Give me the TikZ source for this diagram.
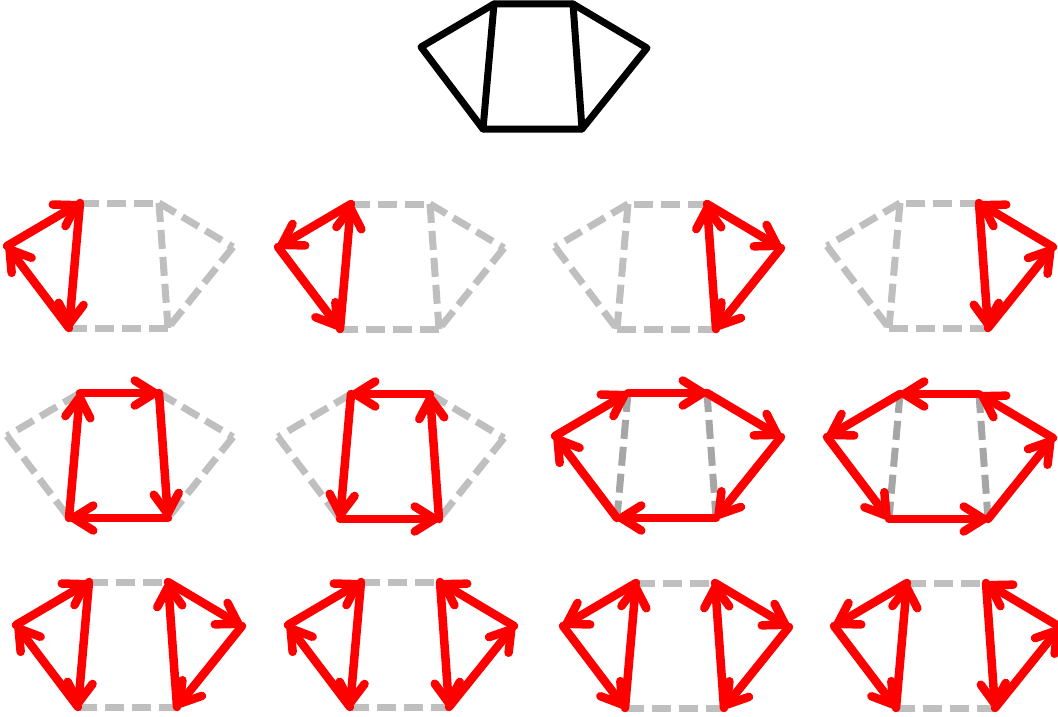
\documentclass[tikz,border=0pt]{standalone}
\usetikzlibrary{arrows.meta}
\tikzset{
  blk/.style={line width=7pt, black, line cap=round, line join=round},
  ghost/.style={line width=7pt, color=lightgray, dash pattern=on 19pt off 8pt},
  ghostd/.style={ghost, color=black!35},
  cyc/.style={line width=8.5pt, red, line cap=round,
    -{Straight Barb[length=20pt,width=25pt,line cap=round,line join=round]}},
}
\newcommand\mkshape[3]{%
  \coordinate (#1L)  at (#2,#3);
  \coordinate (#1TL) at ({#2+73},{#3-43});
  \coordinate (#1TR) at ({#2+152},{#3-43});
  \coordinate (#1R)  at ({#2+226},{#3+1});
  \coordinate (#1BR) at ({#2+161},{#3+82});
  \coordinate (#1BL) at ({#2+62},{#3+82});
}
\begin{document}
\begin{tikzpicture}[x=1pt,y=-1pt]
\useasboundingbox (0,0) rectangle (1058,717);
% top graph
\mkshape{t}{421}{47}
\draw[blk] (tL) -- (tTL) -- (tTR) -- (tR) -- (tBR) -- (tBL) -- cycle;
\draw[blk] (tTL) -- (tBL);
\draw[blk] (tTR) -- (tBR);
% row 1
\mkshape{a}{7}{246}
\mkshape{b}{278}{247}
\mkshape{c}{555}{247}
\mkshape{d}{827}{246}
\foreach \p in {a,b}{
  \draw[ghost] (\p TL) -- (\p TR);
  \draw[ghost] (\p TR) -- (\p R);
  \draw[ghost] (\p R) -- (\p BR);
  \draw[ghost] (\p BR) -- (\p BL);
  \draw[ghost] (\p TR) -- (\p BR);
}
\foreach \p in {c,d}{
  \draw[ghost] (\p TR) -- (\p TL);
  \draw[ghost] (\p TL) -- (\p L);
  \draw[ghost] (\p L) -- (\p BL);
  \draw[ghost] (\p BL) -- (\p BR);
  \draw[ghost] (\p TL) -- (\p BL);
}
\draw[cyc] (aL) -- (aTL); \draw[cyc] (aTL) -- (aBL); \draw[cyc] (aBL) -- (aL);
\draw[cyc] (bTL) -- (bL); \draw[cyc] (bL) -- (bBL); \draw[cyc] (bBL) -- (bTL);
\draw[cyc] (cTR) -- (cR); \draw[cyc] (cR) -- (cBR); \draw[cyc] (cBR) -- (cTR);
\draw[cyc] (dR) -- (dTR); \draw[cyc] (dTR) -- (dBR); \draw[cyc] (dBR) -- (dR);
% row 2
\mkshape{e}{7}{436}
\mkshape{f}{278}{437}
\mkshape{g}{555}{436}
\mkshape{h}{827}{437}
\foreach \p in {e,f}{
  \draw[ghost] (\p TL) -- (\p L);
  \draw[ghost] (\p L) -- (\p BL);
  \draw[ghost] (\p TR) -- (\p R);
  \draw[ghost] (\p R) -- (\p BR);
}
\foreach \p in {g,h}{
  \draw[ghostd] (\p TL) -- (\p BL);
  \draw[ghostd] (\p TR) -- (\p BR);
}
\draw[cyc] (eTL) -- (eTR); \draw[cyc] (eTR) -- (eBR); \draw[cyc] (eBR) -- (eBL); \draw[cyc] (eBL) -- (eTL);
\draw[cyc] (fTR) -- (fTL); \draw[cyc] (fTL) -- (fBL); \draw[cyc] (fBL) -- (fBR); \draw[cyc] (fBR) -- (fTR);
\draw[cyc] (gL) -- (gTL); \draw[cyc] (gTL) -- (gTR); \draw[cyc] (gTR) -- (gR);
\draw[cyc] (gR) -- (gBR); \draw[cyc] (gBR) -- (gBL); \draw[cyc] (gBL) -- (gL);
\draw[cyc] (hTL) -- (hL); \draw[cyc] (hL) -- (hBL); \draw[cyc] (hBL) -- (hBR);
\draw[cyc] (hBR) -- (hR); \draw[cyc] (hR) -- (hTR); \draw[cyc] (hTR) -- (hTL);
% row 3
\mkshape{i}{16}{625}
\mkshape{j}{288}{625}
\mkshape{k}{563}{626}
\mkshape{l}{834}{626}
\foreach \p in {i,j,k,l}{
  \draw[ghost] (\p TL) -- (\p TR);
  \draw[ghost] (\p BL) -- (\p BR);
}
\draw[cyc] (iL) -- (iTL); \draw[cyc] (iTL) -- (iBL); \draw[cyc] (iBL) -- (iL);
\draw[cyc] (iTR) -- (iR); \draw[cyc] (iR) -- (iBR); \draw[cyc] (iBR) -- (iTR);
\draw[cyc] (jL) -- (jTL); \draw[cyc] (jTL) -- (jBL); \draw[cyc] (jBL) -- (jL);
\draw[cyc] (jR) -- (jTR); \draw[cyc] (jTR) -- (jBR); \draw[cyc] (jBR) -- (jR);
\draw[cyc] (kTL) -- (kL); \draw[cyc] (kL) -- (kBL); \draw[cyc] (kBL) -- (kTL);
\draw[cyc] (kTR) -- (kR); \draw[cyc] (kR) -- (kBR); \draw[cyc] (kBR) -- (kTR);
\draw[cyc] (lTL) -- (lL); \draw[cyc] (lL) -- (lBL); \draw[cyc] (lBL) -- (lTL);
\draw[cyc] (lR) -- (lTR); \draw[cyc] (lTR) -- (lBR); \draw[cyc] (lBR) -- (lR);
\end{tikzpicture}
\end{document}
